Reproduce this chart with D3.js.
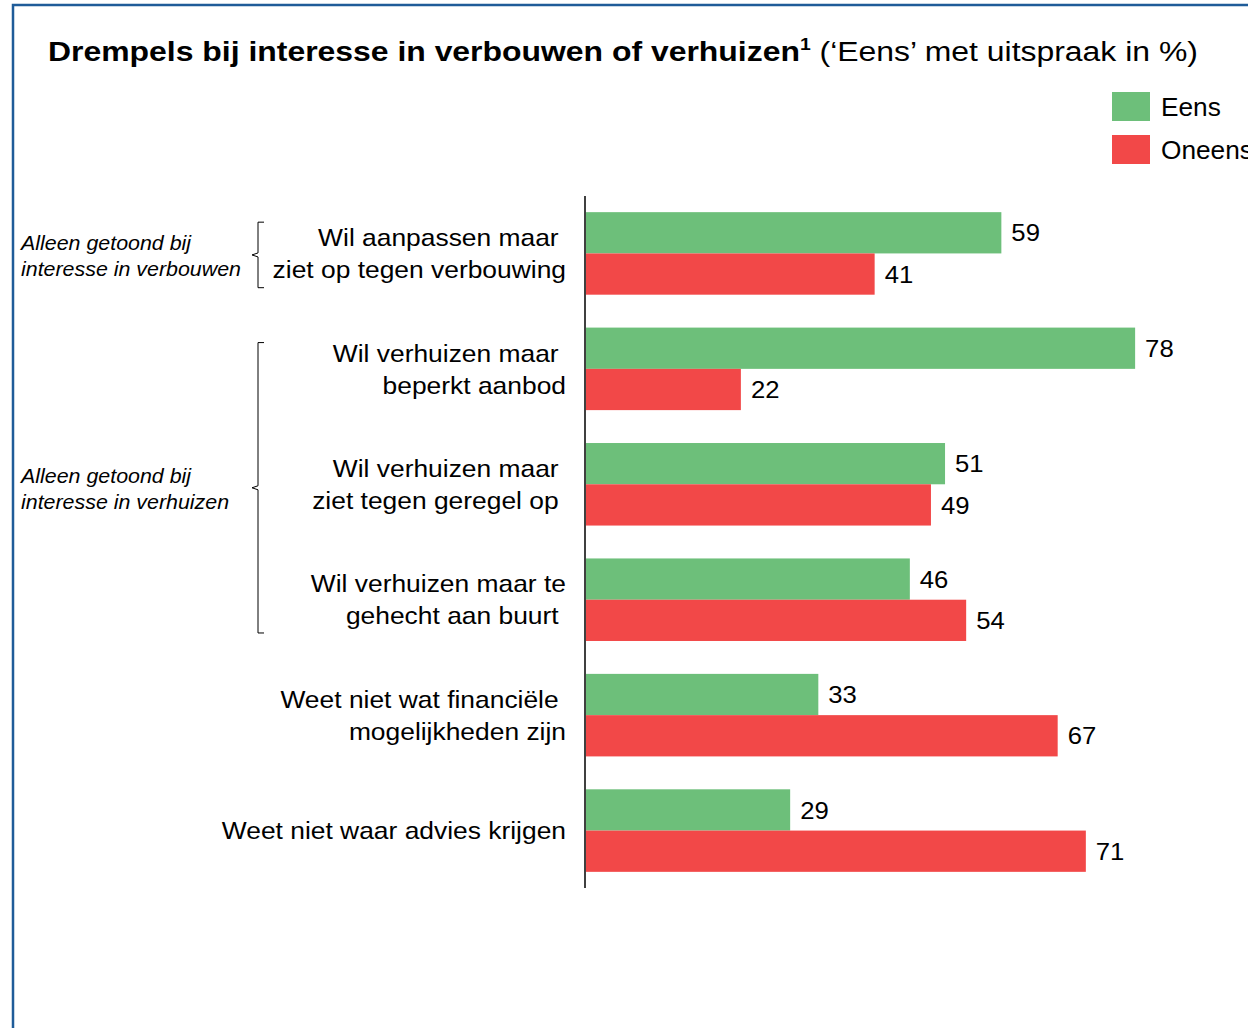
<!DOCTYPE html>
<html><head><meta charset="utf-8">
<script src="https://cdn.jsdelivr.net/npm/d3@7"></script>
<style>
html,body{margin:0;padding:0;background:#fff;}
svg text{font-family:"Liberation Sans",Arial,sans-serif;}
</style></head>
<body>
<svg id="chart" width="1248" height="1028"></svg>
<script>
const categories = [
  ["Wil aanpassen maar ", "ziet op tegen verbouwing"],
  ["Wil verhuizen maar ", "beperkt aanbod"],
  ["Wil verhuizen maar ", "ziet tegen geregel op "],
  ["Wil verhuizen maar te", "gehecht aan buurt "],
  ["Weet niet wat financiële ", "mogelijkheden zijn"],
  ["Weet niet waar advies krijgen"]
];
const eens = [59, 78, 51, 46, 33, 29];
const oneens = [41, 22, 49, 54, 67, 71];
const seriesNames = ["Eens", "Oneens"];
const colors = ["#6DBF7A", "#F24848"];
const groups = [
  {lines: ["Alleen getoond bij", "interesse in verbouwen"], from: 0, to: 0},
  {lines: ["Alleen getoond bij", "interesse in verhuizen"], from: 1, to: 3}
];

const svg = d3.select("#chart");
// helper: horizontally stretched text
function stext(parent, x, y, sx, size, str, anchor) {
  return parent.append("text")
    .attr("transform", `translate(${x},${y}) scale(${sx},1)`)
    .attr("x", 0).attr("y", 0).attr("dy", "0.36em")
    .attr("font-size", size).attr("text-anchor", anchor || "start")
    .style("white-space", "pre").attr("fill", "#000").text(str);
}

// frame
svg.append("path").attr("d","M13,1028 V5 H1248").attr("fill","none").attr("stroke","#1F5C99").attr("stroke-width",2.5);

// title
const title = svg.append("text").attr("transform","translate(48,61) scale(1.14,1)").attr("font-size",28).attr("fill","#000");
title.append("tspan").attr("font-weight","bold").text("Drempels bij interesse in verbouwen of verhuizen");
title.append("tspan").attr("font-weight","bold").attr("font-size",17).attr("dy",-11).text("1");
title.append("tspan").attr("dy",11).attr("font-size",28).style("white-space","pre").text(" (\u2018Eens\u2019 met uitspraak in %)");

// legend
seriesNames.forEach((s,i)=>{
  const yy = 92 + i*43;
  svg.append("rect").attr("x",1112).attr("y",yy).attr("width",38).attr("height",29).attr("fill",colors[i]);
  stext(svg, 1161, yy+15, 1.05, 25, s);
});

const x0 = 586;
const x = d3.scaleLinear().domain([0, 100]).range([x0, x0 + 704]);
const y = d3.scaleBand().domain(d3.range(categories.length)).range([196, 888]).paddingInner(0.285).paddingOuter(0.14);
const sub = d3.scaleBand().domain([0,1]).range([0, y.bandwidth()]);

const data = categories.map((c,i)=>({i, vals:[eens[i], oneens[i]]}));
const g = svg.append("g");
data.forEach(d=>{
  d.vals.forEach((v,j)=>{
    const yy = y(d.i) + sub(j);
    g.append("rect").attr("x",x(0)).attr("y",yy).attr("width",x(v)-x(0)).attr("height",sub.bandwidth()).attr("fill",colors[j]);
    stext(g, x(v)+10, yy+sub.bandwidth()/2, 1.07, 24, String(v));
  });
  const cy = y(d.i) + y.bandwidth()/2;
  const lines = categories[d.i];
  const lh = 32;
  lines.forEach((t,k)=>{
    stext(svg, 566, cy + (k-(lines.length-1)/2)*lh, 1.10, 24, t, "end");
  });
});

// axis line
svg.append("line").attr("x1",x0-1).attr("x2",x0-1).attr("y1",196).attr("y2",888).attr("stroke","#000").attr("stroke-width",1.5);

// group annotations
groups.forEach((gr,gi)=>{
  const top = gi===0 ? y(gr.from)+10 : y(gr.from)+15;
  const bot = gi===0 ? y(gr.to)+y.bandwidth()-7 : y(gr.to)+y.bandwidth()-8;
  const mid = (top+bot)/2;
  const bx = 258;
  svg.append("path").attr("d",`M264,${top} H${bx} V${mid-2} L${bx-6},${mid} L${bx},${mid+2} V${bot} H264`)
    .attr("fill","none").attr("stroke","#000").attr("stroke-width",1);
  gr.lines.forEach((t,k)=>{
    stext(svg, 21, mid + 1 + (k-0.5)*26, 1.07, 20, t).attr("font-style","italic");
  });
});
</script>
</body></html>
